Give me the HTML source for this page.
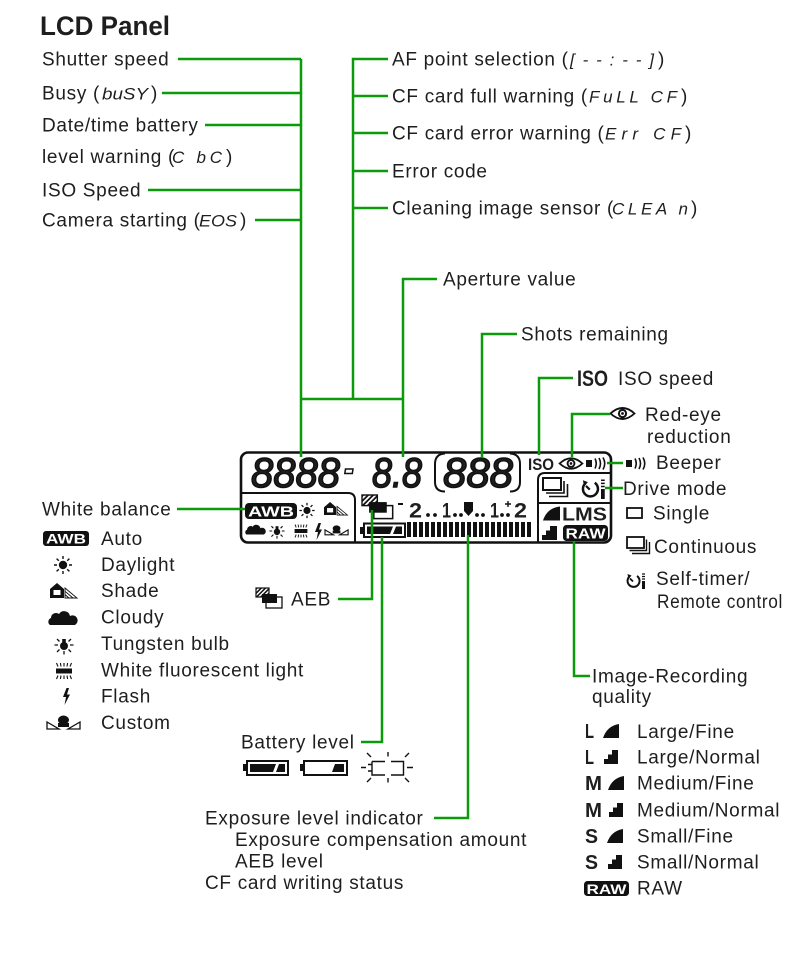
<!DOCTYPE html>
<html><head><meta charset="utf-8">
<style>
html,body{margin:0;padding:0;background:#fff;}
svg{display:block;}
text{font-family:"Liberation Sans",Arial,sans-serif;fill:#1e1e1e;}
.t{font-size:19px;letter-spacing:0.7px;}
.lcd{font-size:17px;font-style:italic;}
.g{stroke:#0a9a0a;stroke-width:2.5;fill:none;}
.k{stroke:#111;fill:none;}
</style></head><body>
<svg width="800" height="955" viewBox="0 0 800 955" xmlns="http://www.w3.org/2000/svg">
<defs>
<pattern id="h" width="3" height="3" patternUnits="userSpaceOnUse" patternTransform="rotate(45)"><rect width="1.5" height="3" fill="#111"/></pattern>
</defs>
<rect width="800" height="955" fill="#fff"/>

<text x="40" y="35" font-weight="bold" font-size="27" textLength="130" lengthAdjust="spacingAndGlyphs">LCD Panel</text>

<!-- left labels -->
<text class="t" x="42" y="65.5">Shutter speed</text>
<text class="t" x="42" y="99.5">Busy (</text><text class="lcd" x="102" y="99.5" textLength="46" lengthAdjust="spacingAndGlyphs">buSY</text><text class="t" x="151" y="99.5">)</text>
<text class="t" x="42" y="131.5">Date/time battery</text>
<text class="t" x="42" y="163">level warning (</text><text class="lcd" x="172" y="163" textLength="50" lengthAdjust="spacing">C  bC</text><text class="t" x="226" y="163">)</text>
<text class="t" x="42" y="196.5">ISO Speed</text>
<text class="t" x="42" y="226.5">Camera starting (</text><text class="lcd" x="199" y="226.5" textLength="38" lengthAdjust="spacingAndGlyphs">EOS</text><text class="t" x="240" y="226.5">)</text>

<!-- right top labels -->
<text class="t" x="392" y="65.5">AF point selection (</text><text class="lcd" x="570" y="65.5" textLength="84" lengthAdjust="spacing">[--:--]</text><text class="t" x="658" y="65.5">)</text>
<text class="t" x="392" y="102.5">CF card full warning (</text><text class="lcd" x="589" y="102.5" textLength="88" lengthAdjust="spacing">FuLL  CF</text><text class="t" x="681" y="102.5">)</text>
<text class="t" x="392" y="139.5">CF card error warning (</text><text class="lcd" x="605" y="139.5" textLength="76" lengthAdjust="spacing">Err  CF</text><text class="t" x="685" y="139.5">)</text>
<text class="t" x="392" y="177.5">Error code</text>
<text class="t" x="392" y="214.5">Cleaning image sensor (</text><text class="lcd" x="612" y="214.5" textLength="76" lengthAdjust="spacing">CLEA n</text><text class="t" x="691" y="214.5">)</text>

<text class="t" x="443" y="285.5">Aperture value</text>
<text class="t" x="521" y="340.5">Shots remaining</text>
<text x="577" y="386" font-weight="bold" font-size="22" textLength="31" lengthAdjust="spacingAndGlyphs">ISO</text>
<text class="t" x="618" y="385">ISO speed</text>

<!-- red-eye legend icon -->
<g transform="translate(622.5,413.5)">
<path d="M-12 0Q0-11 12 0Q0 11-12 0Z" fill="#fff" stroke="#111" stroke-width="1.8"/>
<circle r="4.6" fill="#111"/><circle r="2.6" fill="#fff"/><circle r="1.4" fill="#111"/>
</g>
<text class="t" x="645" y="421">Red-eye</text>
<text class="t" x="647" y="443">reduction</text>

<!-- beeper legend -->
<g transform="translate(626,458)">
<rect x="0" y="2" width="6" height="7" fill="#111"/>
<path d="M9 .5Q11.5 5.5 9 10.5M13 0Q16 5.5 13 11M17-.5Q20.5 5.5 17 11.5" class="k" stroke-width="1.6"/>
</g>
<text class="t" x="656" y="469">Beeper</text>
<text class="t" x="623" y="495">Drive mode</text>

<!-- single -->
<rect x="627" y="508" width="15" height="10" class="k" stroke-width="1.8"/>
<text class="t" x="653" y="519.5">Single</text>
<!-- continuous -->
<g transform="translate(627,537)">
<rect x="0" y="0" width="17" height="11" fill="#fff" stroke="#111" stroke-width="1.8"/>
<path d="M19.5 2.5V13.5H2.5M22.5 5V16.5H5" class="k" stroke-width="1.4"/>
</g>
<text class="t" x="654" y="553">Continuous</text>
<!-- self-timer -->
<g transform="translate(626,573)">
<path d="M3.5 3.5A6 6 0 1 0 11 3" class="k" stroke-width="2"/>
<path d="M1.5 1L5.5 2.5L2.5 6Z" fill="#111"/>
<path d="M7 8.5L4 5.5" class="k" stroke-width="1.8"/>
<path d="M16 1H19M16 3.5H19M16 6H19" class="k" stroke-width="1.2"/>
<rect x="16" y="8" width="3" height="8" fill="#111"/>
</g>
<text class="t" x="656" y="585">Self-timer/</text>
<text class="t" x="657" y="608" textLength="126" lengthAdjust="spacingAndGlyphs">Remote control</text>

<!-- ================= LCD ================= -->
<rect x="241" y="452.5" width="370" height="90" rx="7" fill="#fff" stroke="#111" stroke-width="2.6"/>

<text x="251" y="487" font-size="42" font-style="italic" textLength="89" lengthAdjust="spacingAndGlyphs" fill="#fff" stroke="#111" stroke-width="1.5">8888</text>
<path d="M345.5 469H353L352.3 473.5H344.8Z" fill="#fff" stroke="#111" stroke-width="1.5"/>
<text x="372" y="487" font-size="42" font-style="italic" textLength="50" lengthAdjust="spacingAndGlyphs" fill="#fff" stroke="#111" stroke-width="1.5">8.8</text>
<path d="M445 453.5Q435 454 435 464V482Q435 491.5 445 491.5M510 453.5Q520 454 520 464V482Q520 491.5 510 491.5" class="k" stroke-width="2"/>
<text x="443" y="487" font-size="42" font-style="italic" textLength="70" lengthAdjust="spacingAndGlyphs" fill="#fff" stroke="#111" stroke-width="1.5">888</text>

<text x="528" y="470" font-weight="bold" font-size="17" textLength="26" lengthAdjust="spacingAndGlyphs">ISO</text>
<g transform="translate(571,463.5) scale(.95)">
<path d="M-12 0Q0-11 12 0Q0 11-12 0Z" fill="#fff" stroke="#111" stroke-width="1.9"/>
<circle r="4.6" fill="#111"/><circle r="2.6" fill="#fff"/><circle r="1.4" fill="#111"/>
</g>
<g transform="translate(586,458)">
<rect x="0" y="2" width="6" height="7" fill="#111"/>
<path d="M9 .5Q11.5 5.5 9 10.5M13 0Q16 5.5 13 11M17-.5Q20.5 5.5 17 11.5" class="k" stroke-width="1.6"/>
</g>

<!-- lower-left WB box -->
<path d="M241 493H348Q355 493 355 500V542" class="k" stroke-width="2"/>
<rect x="245" y="503" width="52" height="16" rx="4" fill="#111"/>
<text x="271" y="516.5" font-weight="bold" font-size="15" text-anchor="middle" textLength="46" lengthAdjust="spacingAndGlyphs" style="fill:#fff">AWB</text>
<g transform="translate(307,510.5) scale(.85)">
<circle r="4.2" fill="#111"/>
<path d="M0-6V-9M0 6V9M6 0H9M-6 0H-9M4.2-4.2L6.4-6.4M-4.2-4.2L-6.4-6.4M4.2 4.2L6.4 6.4M-4.2 4.2L-6.4 6.4" stroke="#111" stroke-width="1.5"/>
</g>
<g transform="translate(324,502) scale(.87)">
<path d="M0 6L7 0L14 6V15H0Z" fill="#111"/><rect x="3.5" y="7" width="7" height="5" fill="#fff"/>
<path d="M15 15H27L15 5ZM15 8.3L23 15M15 11.6L19 15" class="k" stroke-width=".9"/>
</g>
<g transform="translate(245,524) scale(.7)">
<path d="M2 15A4 4 0 0 1 3 8A5 5 0 0 1 11 4A6 6 0 0 1 22 6A4.5 4.5 0 0 1 27 15Z" fill="#111"/>
</g>
<g transform="translate(277,531) scale(.8)">
<circle cy="1" r="4" fill="#111"/><rect x="-1.8" y="-6" width="3.6" height="4" fill="#111"/>
<path d="M-6 0H-9.5M6 0H9.5M-4.5 4.5L-7 7M4.5 4.5L7 7M-4.5-3.5L-7-6M4.5-3.5L7-6M0 6V9.5" stroke="#111" stroke-width="1.4"/>
</g>
<g transform="translate(301,531) scale(.8)">
<rect x="-8" y="-2.5" width="16" height="5" fill="#111"/>
<path d="M-6-4.5L-7.5-8M-3-4.5L-3.6-8M0-4.5V-8M3-4.5L3.6-8M6-4.5L7.5-8M-6 4.5L-7.5 8M-3 4.5L-3.6 8M0 4.5V8M3 4.5L3.6 8M6 4.5L7.5 8" stroke="#111" stroke-width="1.2"/>
</g>
<g transform="translate(315,523)">
<path d="M3.5 0L0 9H3L1.5 17L7 6.5H4L6 0Z" fill="#111"/>
</g>
<g transform="translate(325,525) scale(.7)">
<path d="M0 7L12 14H0ZM33 7L21 14H33Z" class="k" stroke-width="1.6"/>
<ellipse cx="16.5" cy="5" rx="5.5" ry="4.5" fill="#111"/><rect x="11" y="8" width="11" height="4" fill="#111"/>
</g>

<!-- AEB on LCD -->
<g transform="translate(362,495) scale(1.18)">
<rect x="10" y="9" width="16" height="11" fill="#fff" stroke="#111" stroke-width="1.3"/>
<rect x="6" y="6" width="15" height="9" fill="#111"/>
<rect x="0" y="0" width="13" height="9" fill="url(#h)" stroke="#111" stroke-width="1.2"/>
</g>

<!-- exposure scale -->
<rect x="398" y="503" width="5" height="2" fill="#111"/>
<text x="409" y="517.5" font-weight="bold" font-size="21" textLength="13" lengthAdjust="spacingAndGlyphs">2</text>
<circle cx="428" cy="515" r="1.9" fill="#111"/><circle cx="435" cy="515" r="1.9" fill="#111"/>
<text x="442" y="517.5" font-weight="bold" font-size="21" textLength="9" lengthAdjust="spacingAndGlyphs">1</text>
<circle cx="455" cy="515" r="1.9" fill="#111"/><circle cx="461" cy="515" r="1.9" fill="#111"/>
<path d="M464 502H473V511L468.5 516L464 511Z" fill="#111"/>
<circle cx="477" cy="515" r="1.9" fill="#111"/><circle cx="483" cy="515" r="1.9" fill="#111"/>
<text x="490" y="517.5" font-weight="bold" font-size="21" textLength="9" lengthAdjust="spacingAndGlyphs">1</text>
<circle cx="502" cy="515" r="1.9" fill="#111"/><circle cx="508" cy="515" r="1.9" fill="#111"/>
<path d="M505 504H511M508 501V507" stroke="#111" stroke-width="1.4"/>
<text x="514" y="517.5" font-weight="bold" font-size="21" textLength="13" lengthAdjust="spacingAndGlyphs">2</text>

<!-- battery on LCD -->
<rect x="360" y="527" width="4" height="7" fill="#111"/>
<rect x="364" y="523.5" width="41" height="13.5" fill="#fff" stroke="#111" stroke-width="2"/>
<path d="M367 526.5H393L390 534H367Z" fill="#111"/>
<path d="M396 526.5H402V534H393Z" fill="#111"/>

<!-- bars -->
<g fill="#111">
<rect x="407" y="522" width="4" height="15"/><rect x="413" y="522" width="4" height="15"/><rect x="419" y="522" width="4" height="15"/><rect x="425" y="522" width="4" height="15"/><rect x="431" y="522" width="4" height="15"/><rect x="437" y="522" width="4" height="15"/><rect x="443" y="522" width="4" height="15"/><rect x="449" y="522" width="4" height="15"/><rect x="455" y="522" width="4" height="15"/><rect x="461" y="522" width="4" height="15"/><rect x="467" y="522" width="4" height="15"/><rect x="473" y="522" width="4" height="15"/><rect x="479" y="522" width="4" height="15"/><rect x="485" y="522" width="4" height="15"/><rect x="491" y="522" width="4" height="15"/><rect x="497" y="522" width="4" height="15"/><rect x="503" y="522" width="4" height="15"/><rect x="509" y="522" width="4" height="15"/><rect x="515" y="522" width="4" height="15"/><rect x="521" y="522" width="4" height="15"/><rect x="527" y="522" width="4" height="15"/>
</g>

<!-- right lower box -->
<path d="M538 542V480Q538 473 545 473H611M538 503H611" class="k" stroke-width="2"/>
<g transform="translate(543,478)">
<rect x="0" y="0" width="18" height="12" fill="#fff" stroke="#111" stroke-width="2"/>
<path d="M21 3V15H3M24.5 6V18.5H6" class="k" stroke-width="1.6"/>
</g>
<g transform="translate(581,479) scale(1.25)">
<path d="M3.5 3.5A6 6 0 1 0 11 3" class="k" stroke-width="2"/>
<path d="M1.5 1L5.5 2.5L2.5 6Z" fill="#111"/>
<path d="M7 8.5L4 5.5" class="k" stroke-width="1.8"/>
<path d="M16 1H19M16 3.5H19M16 6H19" class="k" stroke-width="1.2"/>
<rect x="16" y="8" width="3" height="8" fill="#111"/>
</g>
<path d="M543 520.5Q547 508 560 506.5V520.5Z" fill="#111"/>
<text x="562" y="520.5" font-weight="bold" font-size="18" textLength="45" lengthAdjust="spacingAndGlyphs">LMS</text>
<path d="M542 540V535H546V530.5H550V526H557V540Z" fill="#111"/>
<rect x="563" y="525" width="45" height="16" rx="3.5" fill="#111"/>
<text x="585.5" y="538.5" font-weight="bold" font-size="15" text-anchor="middle" textLength="40" lengthAdjust="spacingAndGlyphs" style="fill:#fff">RAW</text>

<!-- ================= left legend ================= -->
<text class="t" x="42" y="515.5">White balance</text>
<rect x="43" y="531" width="46" height="15" rx="3" fill="#111"/>
<text x="66" y="543.5" font-weight="bold" font-size="14" text-anchor="middle" textLength="40" lengthAdjust="spacingAndGlyphs" style="fill:#fff">AWB</text>
<text class="t" x="101" y="545">Auto</text>

<g transform="translate(63,565)">
<circle r="4.2" fill="#111"/>
<path d="M0-6V-9M0 6V9M6 0H9M-6 0H-9M4.2-4.2L6.4-6.4M-4.2-4.2L-6.4-6.4M4.2 4.2L6.4 6.4M-4.2 4.2L-6.4 6.4" stroke="#111" stroke-width="1.4"/>
</g>
<text class="t" x="101" y="571">Daylight</text>

<g transform="translate(50,583)">
<path d="M0 6L7 0L14 6V15H0Z" fill="#111"/><rect x="3.5" y="7" width="7" height="5" fill="#fff"/>
<path d="M15 15H27L15 5ZM15 8.3L23 15M15 11.6L19 15" class="k" stroke-width=".9"/>
</g>
<text class="t" x="101" y="597">Shade</text>

<g transform="translate(48,610)">
<path d="M2 15A4 4 0 0 1 3 8A5 5 0 0 1 11 4A6 6 0 0 1 22 6A4.5 4.5 0 0 1 27 15Z" fill="#111"/>
</g>
<text class="t" x="101" y="623.5">Cloudy</text>

<g transform="translate(64,645)">
<circle cy="1" r="4" fill="#111"/><rect x="-1.8" y="-6" width="3.6" height="4" fill="#111"/>
<path d="M-6 0H-9.5M6 0H9.5M-4.5 4.5L-7 7M4.5 4.5L7 7M-4.5-3.5L-7-6M4.5-3.5L7-6M0 6V9.5" stroke="#111" stroke-width="1.3"/>
</g>
<text class="t" x="101" y="650">Tungsten bulb</text>

<g transform="translate(64,671)">
<rect x="-8" y="-2.5" width="16" height="5" fill="#111"/>
<path d="M-6-4.5L-7.5-8M-3-4.5L-3.6-8M0-4.5V-8M3-4.5L3.6-8M6-4.5L7.5-8M-6 4.5L-7.5 8M-3 4.5L-3.6 8M0 4.5V8M3 4.5L3.6 8M6 4.5L7.5 8" stroke="#111" stroke-width="1.1"/>
</g>
<text class="t" x="101" y="676.5">White fluorescent light</text>

<g transform="translate(63,688)">
<path d="M3.5 0L0 9H3L1.5 17L7 6.5H4L6 0Z" fill="#111"/>
</g>
<text class="t" x="101" y="702.5">Flash</text>

<g transform="translate(47,715)">
<path d="M0 7L12 14H0ZM33 7L21 14H33Z" class="k" stroke-width="1.3"/>
<ellipse cx="16.5" cy="5" rx="5.5" ry="4.5" fill="#111"/><rect x="11" y="8" width="11" height="4" fill="#111"/>
</g>
<text class="t" x="101" y="729">Custom</text>

<!-- AEB legend -->
<g transform="translate(256,588)">
<rect x="10" y="9" width="16" height="11" fill="#fff" stroke="#111" stroke-width="1.3"/>
<rect x="6" y="6" width="15" height="9" fill="#111"/>
<rect x="0" y="0" width="13" height="9" fill="url(#h)" stroke="#111" stroke-width="1.2"/>
</g>
<text class="t" x="291" y="605.5">AEB</text>

<!-- Battery level -->
<text class="t" x="241" y="748.5">Battery level</text>
<rect x="243" y="764" width="4" height="7" fill="#111"/>
<rect x="247" y="761" width="41" height="14" fill="#fff" stroke="#111" stroke-width="2"/>
<path d="M250 764H276L273 772H250Z" fill="#111"/>
<path d="M279 764H285V772H276Z" fill="#111"/>
<rect x="300" y="764" width="4" height="7" fill="#111"/>
<rect x="304" y="761" width="43" height="14" fill="#fff" stroke="#111" stroke-width="2"/>
<path d="M335 764H344V772H332Z" fill="#111"/>
<path d="M361 767.5H366M368 764.5H372V771H368M372 761.5H385M391 761.5H403.5V775H391M385 775H372V761.5M407 767.5H413M388 752V756.5M388 778V782.5M367 753L371 757M409 753L405 757M367 782L371 778M409 782L405 778" class="k" stroke-width="1.4"/>

<!-- Exposure -->
<text class="t" x="205" y="824.5">Exposure level indicator</text>
<text class="t" x="235" y="846">Exposure compensation amount</text>
<text class="t" x="235" y="867.5">AEB level</text>
<text class="t" x="205" y="889">CF card writing status</text>

<!-- Image recording quality -->
<text class="t" x="592" y="682.5">Image-Recording</text>
<text class="t" x="592" y="703">quality</text>

<text x="585" y="738" font-weight="bold" font-size="20" textLength="9" lengthAdjust="spacingAndGlyphs">L</text>
<path d="M603 738Q607 726 619 724V738Z" fill="#111"/>
<text class="t" x="637" y="738">Large/Fine</text>

<text x="585" y="764" font-weight="bold" font-size="20" textLength="9" lengthAdjust="spacingAndGlyphs">L</text>
<path d="M604 764V759H608V754.5H612V750H618V764Z" fill="#111"/>
<text class="t" x="637" y="763.5">Large/Normal</text>

<text x="585" y="790" font-weight="bold" font-size="20" textLength="17" lengthAdjust="spacingAndGlyphs">M</text>
<path d="M608 790Q612 778 624 776V790Z" fill="#111"/>
<text class="t" x="637" y="789.5">Medium/Fine</text>

<text x="585" y="817" font-weight="bold" font-size="20" textLength="17" lengthAdjust="spacingAndGlyphs">M</text>
<path d="M609 817V812H613V807.5H617V803H623V817Z" fill="#111"/>
<text class="t" x="637" y="816.5">Medium/Normal</text>

<text x="585" y="843" font-weight="bold" font-size="20" textLength="13" lengthAdjust="spacingAndGlyphs">S</text>
<path d="M607 843Q611 831 623 829V843Z" fill="#111"/>
<text class="t" x="637" y="842.5">Small/Fine</text>

<text x="585" y="869" font-weight="bold" font-size="20" textLength="13" lengthAdjust="spacingAndGlyphs">S</text>
<path d="M608 869V864H612V859.5H616V855H622V869Z" fill="#111"/>
<text class="t" x="637" y="868.5">Small/Normal</text>

<rect x="584" y="881" width="45" height="15" rx="3.5" fill="#111"/>
<text x="606.5" y="894" font-weight="bold" font-size="14" text-anchor="middle" textLength="40" lengthAdjust="spacingAndGlyphs" style="fill:#fff">RAW</text>
<text class="t" x="637" y="894.5">RAW</text>

<!-- ================= connectors ================= -->
<path class="g" d="M178 59H301M162 93H301M205 125H301M148 190H301M255 220H301M301 59V457"/>
<path class="g" d="M388 59H353V399M353 96H388M353 133H388M353 171H388M353 208H388"/>
<path class="g" d="M301 399H403M437 279H403V457"/>
<path class="g" d="M517 334H482V457"/>
<path class="g" d="M573 378H539V455"/>
<path class="g" d="M610 414H572V457"/>
<path class="g" d="M607 463H623"/>
<path class="g" d="M605 488H623"/>
<path class="g" d="M177 509H245"/>
<path class="g" d="M372 510V599H338"/>
<path class="g" d="M382 537V742H361"/>
<path class="g" d="M468 535V818H434"/>
<path class="g" d="M574 541V676H590"/>
</svg>
</body></html>
